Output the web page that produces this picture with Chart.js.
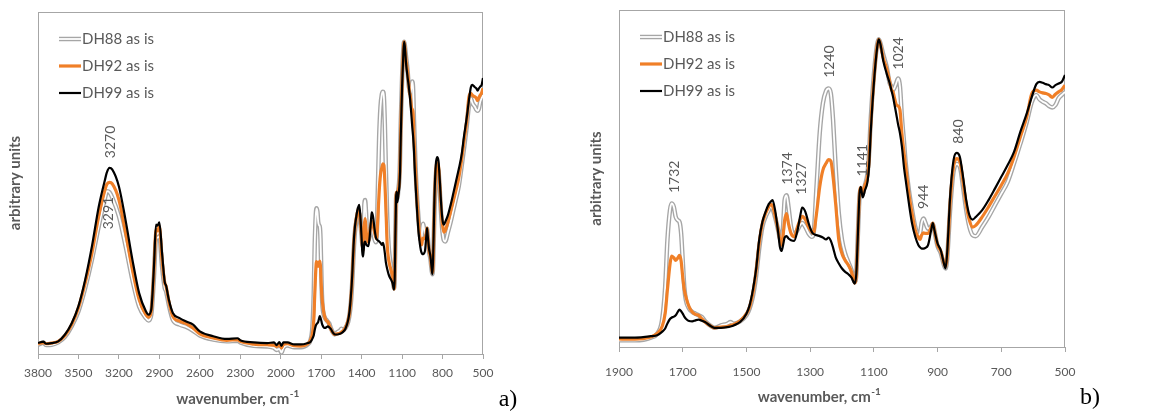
<!DOCTYPE html>
<html>
<head>
<meta charset="utf-8">
<script src="https://cdn.jsdelivr.net/npm/chart.js@4.4.1/dist/chart.umd.min.js"></script>
<style>
  body { margin: 0; background: #fff; }
  .wrap { display: flex; width: 1159px; height: 416px; }
  canvas { display: block; }
</style>
</head>
<body>
<div class="wrap">
  <canvas id="chartA" width="580" height="416"></canvas>
  <canvas id="chartB" width="579" height="416"></canvas>
</div>
<script>
// wavenumber, cm-1 (shared by all three spectra)
const wavenumbers = [
  3800, 3760, 3740, 3700, 3650, 3600, 3550, 3500, 3450, 3400, 3350, 3300, 3290, 3270, 3250, 3200,
  3150, 3100, 3050, 3000, 2980, 2960, 2940, 2925, 2915, 2900, 2880, 2860, 2850, 2830, 2800, 2750,
  2700, 2650, 2600, 2500, 2400, 2320, 2300, 2200, 2100, 2050, 2030, 2010, 1995, 1980, 1950, 1900,
  1850, 1800, 1780, 1765, 1755, 1748, 1740, 1735, 1728, 1722, 1715, 1710, 1705, 1700, 1695, 1690,
  1680, 1670, 1660, 1650, 1640, 1630, 1610, 1600, 1580, 1560, 1550, 1540, 1520, 1500, 1490, 1480,
  1470, 1460, 1450, 1440, 1430, 1425, 1418, 1410, 1400, 1395, 1390, 1385, 1380, 1374, 1368, 1360,
  1350, 1340, 1330, 1325, 1315, 1305, 1295, 1290, 1280, 1270, 1260, 1250, 1242, 1235, 1228, 1220,
  1210, 1200, 1190, 1180, 1170, 1160, 1155, 1150, 1145, 1141, 1135, 1128, 1120, 1115, 1110, 1100,
  1090, 1085, 1080, 1070, 1060, 1050, 1045, 1040, 1035, 1030, 1024, 1018, 1012, 1005, 1000, 990,
  980, 970, 960, 955, 950, 944, 938, 930, 920, 915, 910, 900, 890, 880, 875, 870,
  860, 850, 840, 830, 820, 810, 800, 790, 780, 760, 740, 720, 700, 680, 660, 640,
  620, 605, 590, 580, 570, 560, 550, 540, 530, 520, 510, 500
];

const dh88 = [
  2.7, 3.3, 2.6, 2.7, 3.4, 5.0, 8.1, 12.5, 19.3, 27.6, 37.3, 46.1, 47.6, 47.3, 45.8, 40.3,
  31.5, 21.7, 13.9, 10.5, 9.8, 11.5, 22.7, 33.9, 34.0, 34.4, 25.6, 19.3, 18.3, 14.4, 10.0, 8.6,
  7.9, 6.8, 5.4, 4.2, 3.7, 3.9, 3.4, 2.4, 2.2, 1.8, 1.2, 1.5, 0.4, 1.8, 2.5, 2.0,
  2.0, 2.8, 4.0, 7.9, 17.8, 31.7, 40.6, 42.6, 41.6, 38.6, 37.6, 37.1, 33.7, 25.7, 17.8, 13.9,
  11.4, 10.4, 9.9, 9.4, 8.9, 7.7, 6.1, 5.7, 6.4, 6.9, 7.4, 6.9, 7.6, 9.4, 11.4, 14.9,
  20.8, 29.2, 35.6, 38.6, 40.6, 41.6, 41.0, 38.5, 34.5, 32.2, 31.7, 35.6, 43.6, 45.0, 41.6, 35.6,
  33.2, 34.7, 36.4, 36.8, 35.6, 33.7, 32.7, 33.2, 47.5, 63.4, 72.3, 76.0, 76.7, 75.2, 67.3, 53.5,
  39.6, 31.7, 27.7, 25.2, 22.8, 19.3, 21.8, 33.7, 44.6, 46.5, 45.5, 48.0, 51.5, 57.4, 67.3, 80.7,
  89.6, 91.3, 90.3, 86.6, 83.2, 78.2, 77.4, 76.2, 77.0, 78.2, 79.7, 77.2, 68.3, 60.4, 54.5, 46.5,
  40.6, 35.6, 33.2, 33.7, 36.8, 38.1, 36.8, 35.1, 35.8, 36.6, 34.5, 29.9, 27.9, 24.3, 23.3, 26.2,
  41.6, 52.0, 54.3, 53.5, 47.5, 40.6, 35.6, 33.2, 32.9, 35.6, 38.6, 42.1, 45.5, 49.0, 54.5, 60.4,
  66.8, 72.5, 74.8, 73.5, 72.8, 72.3, 71.5, 71.1, 71.8, 73.8, 74.8, 75.7
];

const dh92 = [
  3.0, 3.3, 3.0, 3.2, 3.7, 5.4, 8.6, 13.5, 20.8, 29.5, 40.3, 48.5, 49.6, 50.2, 49.8, 45.1,
  35.4, 24.7, 15.9, 11.5, 10.8, 12.5, 24.7, 36.4, 36.0, 37.3, 27.5, 20.8, 19.8, 15.4, 11.0, 9.6,
  8.9, 7.6, 5.9, 4.7, 4.0, 4.2, 3.7, 2.9, 2.7, 2.6, 2.2, 2.8, 1.8, 2.8, 3.0, 2.4,
  2.3, 3.0, 4.0, 6.0, 10.0, 17.0, 24.5, 27.0, 26.5, 25.7, 26.5, 27.2, 25.5, 20.8, 17.0, 14.9,
  11.9, 10.4, 9.7, 9.4, 8.4, 7.4, 6.1, 5.7, 5.9, 6.1, 6.4, 6.7, 7.7, 9.9, 11.9, 15.8,
  22.3, 30.7, 36.6, 39.6, 41.6, 42.4, 41.8, 39.0, 34.5, 31.7, 30.2, 33.2, 37.6, 39.6, 36.6, 33.7,
  32.7, 35.6, 38.1, 38.8, 37.8, 35.6, 34.2, 33.7, 39.6, 47.5, 52.5, 54.5, 55.6, 55.2, 50.5, 42.6,
  31.7, 27.7, 25.7, 24.3, 22.3, 19.0, 21.8, 33.7, 45.5, 47.3, 45.5, 48.0, 50.5, 55.4, 65.3, 79.2,
  89.1, 91.3, 90.1, 85.6, 82.7, 78.7, 76.4, 75.7, 73.8, 72.0, 71.5, 70.3, 63.4, 57.4, 53.5, 45.5,
  39.6, 34.7, 32.5, 31.9, 33.2, 33.9, 33.7, 33.7, 35.6, 36.8, 34.7, 30.2, 28.5, 24.8, 23.8, 26.7,
  43.6, 53.5, 55.9, 55.0, 49.0, 42.1, 37.6, 35.6, 36.1, 38.6, 41.6, 44.8, 48.0, 51.5, 56.4, 62.4,
  68.3, 75.0, 76.2, 75.7, 75.4, 75.2, 74.8, 74.1, 75.0, 75.7, 76.4, 77.7
];

const dh99 = [
  3.2, 3.6, 3.0, 3.2, 3.7, 5.7, 9.0, 14.0, 21.7, 31.5, 43.0, 51.5, 53.0, 54.4, 54.0, 49.0,
  39.0, 27.6, 17.8, 12.5, 11.5, 13.0, 25.6, 37.8, 37.5, 38.5, 29.5, 21.0, 20.0, 15.9, 12.0, 10.5,
  9.5, 8.6, 6.6, 5.2, 4.4, 4.6, 4.0, 3.4, 3.2, 3.4, 2.6, 3.5, 2.4, 3.4, 3.4, 2.8,
  2.8, 3.2, 3.5, 4.5, 5.5, 7.0, 8.3, 8.7, 9.0, 9.4, 10.5, 11.1, 10.6, 9.9, 9.0, 8.4,
  7.7, 7.6, 7.9, 8.1, 7.8, 7.4, 6.1, 5.7, 5.7, 5.9, 6.1, 6.4, 7.4, 9.9, 12.4, 16.8,
  22.8, 31.7, 37.1, 40.1, 42.4, 43.0, 43.6, 40.6, 33.7, 29.7, 28.5, 30.2, 32.5, 32.9, 32.2, 31.7,
  31.5, 34.5, 39.5, 41.4, 40.1, 36.8, 34.2, 33.6, 33.2, 32.9, 32.5, 31.9, 32.5, 31.5, 29.5, 26.7,
  24.8, 23.3, 22.3, 21.6, 20.6, 18.8, 21.8, 33.7, 45.5, 47.5, 44.4, 46.5, 49.0, 53.5, 63.4, 78.2,
  88.6, 91.3, 90.1, 84.7, 81.2, 78.2, 76.2, 74.3, 71.8, 69.3, 66.1, 63.4, 59.5, 53.0, 49.5, 42.6,
  36.6, 32.7, 30.2, 29.6, 29.2, 29.2, 29.4, 30.2, 34.7, 36.8, 34.7, 30.7, 28.7, 24.8, 23.3, 27.7,
  45.5, 55.4, 57.6, 56.4, 50.5, 43.6, 39.1, 37.8, 38.6, 40.6, 43.6, 47.0, 50.5, 54.0, 57.9, 63.9,
  69.3, 74.0, 78.0, 78.7, 78.4, 78.0, 77.7, 77.0, 77.7, 78.2, 78.7, 80.7
];

const seriesNames = ['DH88 as is', 'DH92 as is', 'DH99 as is'];

// x-axis ticks of the two panels
const ticksA = [3800, 3500, 3200, 2900, 2600, 2300, 2000, 1700, 1400, 1100, 800, 500];
const ticksB = [1900, 1700, 1500, 1300, 1100, 900, 700, 500];

// band labels: text, where the label sits (wavenumber, height)
const peakTextA = ['3270', '3291'];
const peakXA = [3264, 3277];
const peakYA = [62, 41.2];
const peakTextB = ['1732', '1374', '1327', '1240', '1141', '1024', '944', '840'];
const peakXB = [1726, 1372, 1327, 1240, 1135, 1023, 945, 835];
const peakYB = [50.5, 53.0, 50.0, 84.7, 55.4, 87.1, 44.6, 63.9];

const textGray = '#595959';
const lineGray = '#a6a6a6';
const orange = '#f07f27';

function series(values) {
    return wavenumbers.map((w, i) => ({ x: w, y: values[i] }));
}

const decoPlugin = {
    id: 'deco',
    beforeDatasetsDraw(chart) {
        const { ctx, chartArea: a } = chart;
        ctx.save();
        ctx.strokeStyle = lineGray;
        ctx.lineWidth = 1;
        ctx.strokeRect(Math.round(a.left) + 0.5, Math.round(a.top) + 0.5,
            Math.round(a.right - a.left) - 1, Math.round(a.bottom - a.top));
        ctx.restore();
    },
    afterDatasetsDraw(chart, args, opts) {
        const { ctx, chartArea: a, scales } = chart;
        ctx.save();

        // legend inside the plot area
        seriesNames.forEach((name, i) => {
            const y = a.top + 27 + i * 27;
            const x0 = a.left + 21, x1 = a.left + 43;
            ctx.beginPath();
            ctx.moveTo(x0, y);
            ctx.lineTo(x1, y);
            if (i === 0) {
                ctx.strokeStyle = lineGray; ctx.lineWidth = 4.5; ctx.stroke();
                ctx.strokeStyle = '#fff'; ctx.lineWidth = 1.8; ctx.stroke();
            } else {
                ctx.strokeStyle = i === 1 ? orange : '#000';
                ctx.lineWidth = i === 1 ? 3.2 : 2.2;
                ctx.stroke();
            }
            ctx.fillStyle = textGray;
            ctx.font = '15px Lato';
            ctx.textAlign = 'left';
            ctx.textBaseline = 'middle';
            ctx.fillText(name, x1 + 1, y);
        });

        // band labels, rotated
        ctx.font = '14px Lato';
        ctx.fillStyle = textGray;
        ctx.textAlign = 'center';
        ctx.textBaseline = 'middle';
        opts.peakText.forEach((t, i) => {
            const px = scales.x.getPixelForValue(opts.peakX[i]);
            const py = scales.y.getPixelForValue(opts.peakY[i]);
            ctx.save();
            ctx.translate(px, py);
            ctx.rotate(-Math.PI / 2);
            ctx.fillText(t, 0, 0);
            ctx.restore();
        });

        // x axis title with superscript
        const cx = (a.left + a.right) / 2 - 23;
        const ty = opts.titleY;
        ctx.font = 'bold 15px Lato';
        const main = 'wavenumber, cm';
        const wMain = ctx.measureText(main).width;
        ctx.font = 'bold 10px Lato';
        const wSup = ctx.measureText('-1').width;
        const start = cx - (wMain + wSup) / 2;
        ctx.textAlign = 'left';
        ctx.textBaseline = 'middle';
        ctx.font = 'bold 15px Lato';
        ctx.fillText(main, start, ty);
        ctx.font = 'bold 10px Lato';
        ctx.fillText('-1', start + wMain + 0.5, ty - 5);

        // panel letter
        ctx.fillStyle = '#000';
        ctx.font = '24px "Liberation Serif"';
        ctx.textAlign = 'center';
        ctx.fillText(opts.letter, opts.letterX, opts.letterY);
        ctx.restore();
    }
};

function makePanel(id, tickValues, pad, tickPad, deco) {
    const common = { pointRadius: 0, fill: false, cubicInterpolationMode: 'monotone' };
    return new Chart(document.getElementById(id), {
        type: 'line',
        data: {
            datasets: [
                { ...common, label: seriesNames[0], data: series(dh88), borderColor: lineGray, borderWidth: 4.5, order: 4 },
                { ...common, label: 'core', data: series(dh88), borderColor: '#ffffff', borderWidth: 1.8, order: 3 },
                { ...common, label: seriesNames[1], data: series(dh92), borderColor: orange, borderWidth: 3.2, order: 2 },
                { ...common, label: seriesNames[2], data: series(dh99), borderColor: '#000000', borderWidth: 2.2, order: 1 }
            ]
        },
        options: {
            responsive: false,
            animation: false,
            layout: { padding: pad },
            plugins: {
                legend: { display: false },
                tooltip: { enabled: false },
                deco: deco
            },
            scales: {
                x: {
                    type: 'linear',
                    reverse: true,
                    min: Math.min(...tickValues),
                    max: Math.max(...tickValues),
                    afterBuildTicks: (axis) => { axis.ticks = tickValues.map(v => ({ value: v })); },
                    ticks: {
                        color: textGray,
                        font: { family: 'Lato', size: 12 },
                        padding: tickPad,
                        maxRotation: 0,
                        autoSkip: false,
                        callback: (v) => String(v)
                    },
                    grid: { display: true, drawOnChartArea: false, drawTicks: true, tickLength: 5, color: lineGray },
                    border: { display: false }
                },
                y: {
                    min: 0,
                    max: 100,
                    ticks: { display: false },
                    grid: { display: false, drawTicks: false },
                    border: { display: false },
                    title: {
                        display: true,
                        text: 'arbitrary units',
                        color: textGray,
                        font: { family: 'Lato', size: 15, weight: 'bold' },
                        padding: { top: 5, bottom: 14 }
                    }
                }
            }
        },
        plugins: [decoPlugin]
    });
}

makePanel('chartA', ticksA, { left: 1, right: 97, top: 12, bottom: 28.6 }, 7,
    { peakText: peakTextA, peakX: peakXA, peakY: peakYA, titleY: 399, letter: 'a)', letterX: 508, letterY: 400 });

makePanel('chartB', ticksB, { left: 2, right: 94, top: 10, bottom: 23.6 }, 13,
    { peakText: peakTextB, peakX: peakXB, peakY: peakYB, titleY: 397, letter: 'b)', letterX: 510, letterY: 398 });
</script>
</body>
</html>
